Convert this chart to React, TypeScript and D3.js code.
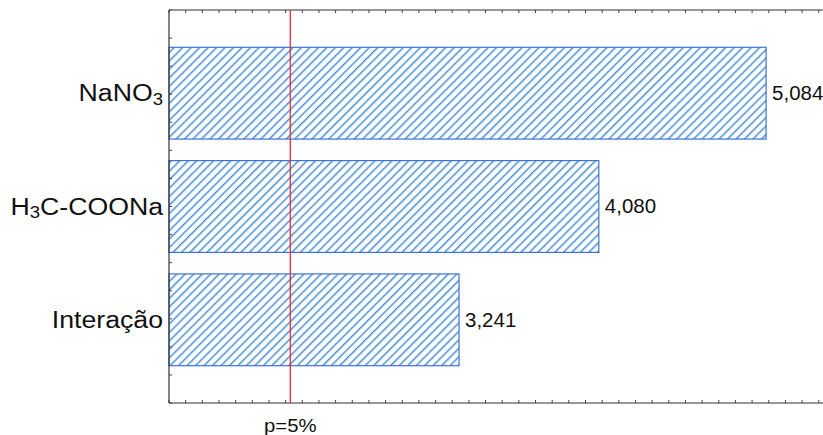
import React from "react";
import * as d3 from "d3";

const categories = ["NaNO3", "H3C-COONa", "Interação"];
const values = [5.084, 4.08, 3.241];
const valueLabels = ["5,084", "4,080", "3,241"];
const pLimit = 2.228;
const pLabel = "p=5%";
const xDomain = [1.5, 5.5];

const W = 823;
const H = 435;
const left = 169;
const top = 10;
const bottom = 403;

function CatLabel({ name, x, y }: { name: string; x: number; y: number }) {
  const fs = 23;
  const sub = 16;
  let content: React.ReactNode = name;
  if (name === "NaNO3") {
    content = (
      <>
        NaNO<tspan fontSize={sub} dy={6}>3</tspan>
      </>
    );
  } else if (name === "H3C-COONa") {
    content = (
      <>
        H<tspan fontSize={sub} dy={6}>3</tspan>
        <tspan dy={-6}>C-COONa</tspan>
      </>
    );
  }
  return (
    <g transform={`translate(${x},${y}) scale(1.16,1)`}>
      <text x={0} y={0} textAnchor="end" dominantBaseline="central" fontSize={fs} fill="#111">
        {content}
      </text>
    </g>
  );
}

export default function App() {
  const x = d3.scaleLinear().domain(xDomain).range([left, left + 4 * 166.6]);
  const y = d3
    .scaleBand<string>()
    .domain(categories)
    .range([top, bottom])
    .paddingInner(0.19)
    .paddingOuter(0.329);

  const minorX = d3.range(15, 56).map((v) => v / 10);
  const leftTicks = d3.range(0, 15).map((i) => top + (i * (bottom - top)) / 14);

  return (
    <svg
      width={W}
      height={H}
      style={{ position: "absolute", left: 0, top: 0, background: "#fff", fontFamily: "'Liberation Sans', Arial, sans-serif" }}
    >
      <defs>
        <pattern id="hatch" patternUnits="userSpaceOnUse" width={6} height={6} patternTransform="rotate(45)">
          <rect width={6} height={6} fill="#fff" />
          <line x1={0} y1={0} x2={0} y2={6} stroke="#4a90dc" strokeWidth={3} />
        </pattern>
      </defs>
      {categories.map((c, i) => (
        <g key={c}>
          <rect
            x={x(xDomain[0])}
            y={y(c)!}
            width={x(values[i]) - x(xDomain[0])}
            height={y.bandwidth()}
            fill="url(#hatch)"
            stroke="#3b74d4"
            strokeWidth={1.2}
          />
          <g transform={`translate(${x(values[i]) + 6},${y(c)! + y.bandwidth() / 2}) scale(1.05,1)`}>
            <text x={0} y={0} dominantBaseline="central" fontSize={19.5} fill="#111">
              {valueLabels[i]}
            </text>
          </g>
          <CatLabel name={c} x={163} y={y(c)! + y.bandwidth() / 2} />
        </g>
      ))}
      {/* frame */}
      <line x1={left} x2={W} y1={top} y2={top} stroke="#333" strokeWidth={1.2} />
      <line x1={left} x2={W} y1={bottom} y2={bottom} stroke="#333" strokeWidth={1.2} />
      <line x1={left} x2={left} y1={top} y2={bottom} stroke="#333" strokeWidth={1.2} />
      {minorX.map((v) => (
        <g key={v}>
          <line x1={x(v)} x2={x(v)} y1={top} y2={top + 3} stroke="#444" />
          <line x1={x(v)} x2={x(v)} y1={bottom} y2={bottom - 3} stroke="#444" />
        </g>
      ))}
      {leftTicks.map((t, i) => (
        <line key={i} x1={left} x2={left + 3} y1={t} y2={t} stroke="#444" />
      ))}
      <line x1={x(pLimit)} x2={x(pLimit)} y1={top} y2={bottom} stroke="#e0303a" strokeWidth={1.3} />
      <g transform={`translate(${x(pLimit)},${425}) scale(1.1,1)`}>
        <text x={0} y={0} textAnchor="middle" dominantBaseline="central" fontSize={18.5} fill="#111">
          {pLabel}
        </text>
      </g>
    </svg>
  );
}
